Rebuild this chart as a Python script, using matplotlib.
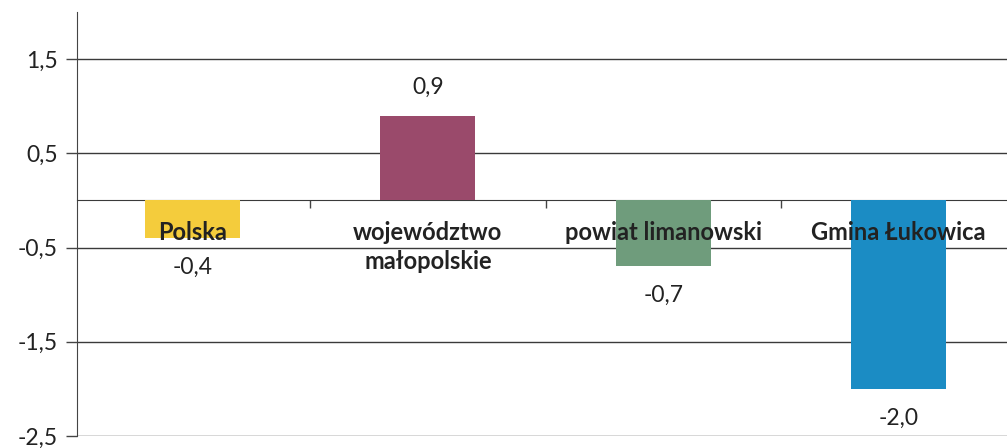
import matplotlib
matplotlib.use("Agg")
import matplotlib.pyplot as plt

categories = ["Polska", "województwo\nmałopolskie", "powiat limanowski", "Gmina Łukowica"]
values = [-0.4, 0.9, -0.7, -2.0]
colors = ["#F4CC3C", "#9A4A6B", "#6F9C7C", "#1B8CC4"]
ytick_values = [1.5, 0.5, -0.5, -1.5, -2.5]
ytick_labels = ["1,5", "0,5", "-0,5", "-1,5", "-2,5"]

plt.rcParams['font.family'] = ['Lato', 'DejaVu Sans']

fig = plt.figure(figsize=(10.07, 4.48), dpi=100)
ax = fig.add_axes([0.0765, 0.027, 0.9235, 0.946])

x = list(range(len(categories)))
ax.bar(x, values, width=0.404, color=colors, zorder=3)

ax.set_xlim(-0.491, 3.461)
ax.set_ylim(-2.5, 2.0)

ax.set_yticks(ytick_values)
ax.set_yticklabels(ytick_labels, fontsize=16.5, color="#222222")
ax.tick_params(axis='y', length=8, width=1, color="#444444", pad=6)
ax.yaxis.grid(True, color="#3a3a3a", linewidth=1.0, zorder=1)
ax.set_axisbelow(True)

ax.set_xticks([0.5, 1.5, 2.5])
ax.set_xticklabels([])
ax.tick_params(axis='x', length=6, width=1, color="#444444", direction='out')

ax.spines['bottom'].set_position(('data', 0))
ax.spines['bottom'].set_color("#3a3a3a")
ax.spines['left'].set_color("#444444")
ax.spines['top'].set_visible(False)
ax.spines['right'].set_visible(False)

for xi, cat in zip(x, categories):
    ax.text(xi, -0.22, cat, ha='center', va='top', fontsize=17, fontweight='bold',
            color="#222222", zorder=4, linespacing=1.3)

for xi, v in zip(x, values):
    lbl = f"{v:.1f}".replace('.', ',')
    off = 0.3 if v >= 0 else -0.31
    ax.text(xi, v + off, lbl, ha='center', va='center', fontsize=16.5, color="#222222")

fig.savefig("out.png", dpi=100)
